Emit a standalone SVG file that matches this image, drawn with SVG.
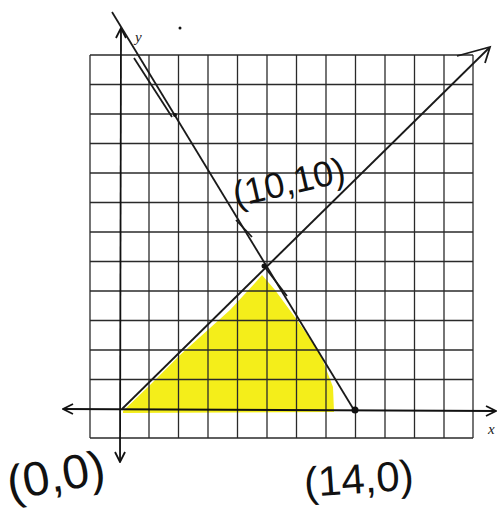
<svg xmlns="http://www.w3.org/2000/svg" width="499" height="509" viewBox="0 0 499 509">
<style>
.grid line{stroke:#2a2a2a;stroke-width:1.3}
.ax{stroke:#111;stroke-width:1.8;fill:none}
.ln{stroke:#1a1a1a;stroke-width:1.8;fill:none}
.hand{font-family:"Liberation Sans",Arial,sans-serif;fill:#111;font-weight:normal}
.lab{font-family:"Liberation Serif","Times New Roman",serif;font-style:italic;fill:#222;font-size:15px}
</style>
<defs>
<marker id="ah" viewBox="0 0 12 12" refX="11" refY="6" markerWidth="12" markerHeight="12" markerUnits="userSpaceOnUse" orient="auto-start-reverse">
<path d="M1,1 L11,6 L1,11" fill="none" stroke="#111" stroke-width="1.8"/>
</marker>
</defs>
<rect width="499" height="509" fill="#fff"/>
<g id="shade">
<polygon points="123,411 150,385 180,355 230,310 255,283 262,275 275,290 297,320 320,353 333,387 334,412 123,413" fill="#f4ee1a"/>
</g>
<g id="grid" class="grid">
<line x1="90" y1="55" x2="90" y2="438"/>
<line x1="149" y1="55" x2="149" y2="438"/>
<line x1="178.5" y1="55" x2="178.5" y2="438"/>
<line x1="208" y1="55" x2="208" y2="438"/>
<line x1="237.5" y1="55" x2="237.5" y2="438"/>
<line x1="267" y1="55" x2="267" y2="438"/>
<line x1="296.5" y1="55" x2="296.5" y2="438"/>
<line x1="326" y1="55" x2="326" y2="438"/>
<line x1="355.5" y1="55" x2="355.5" y2="438"/>
<line x1="385" y1="55" x2="385" y2="438"/>
<line x1="414.5" y1="55" x2="414.5" y2="438"/>
<line x1="444" y1="55" x2="444" y2="438"/>
<line x1="473" y1="55" x2="473" y2="438"/>
<line x1="90" y1="55" x2="473" y2="55"/>
<line x1="90" y1="84.5" x2="473" y2="84.5"/>
<line x1="90" y1="114" x2="473" y2="114"/>
<line x1="90" y1="143.5" x2="473" y2="143.5"/>
<line x1="90" y1="173" x2="473" y2="173"/>
<line x1="90" y1="202.5" x2="473" y2="202.5"/>
<line x1="90" y1="232" x2="473" y2="232"/>
<line x1="90" y1="261.5" x2="473" y2="261.5"/>
<line x1="90" y1="291" x2="473" y2="291"/>
<line x1="90" y1="320.5" x2="473" y2="320.5"/>
<line x1="90" y1="350" x2="473" y2="350"/>
<line x1="90" y1="379.5" x2="473" y2="379.5"/>
<line x1="90" y1="438" x2="473" y2="438"/>
</g>
<g id="connectors">
<line id="x-axis" class="ax" x1="63" y1="409" x2="496" y2="411" marker-start="url(#ah)" marker-end="url(#ah)"/>
<line id="y-axis" class="ax" x1="120" y1="462" x2="121" y2="28" marker-start="url(#ah)" marker-end="url(#ah)"/>
<line id="line-down" class="ln" x1="112" y1="12" x2="354" y2="410"/>
<line class="ln" x1="264" y1="266" x2="287" y2="296" stroke-width="1.4"/>
<line class="ln" x1="134" y1="58" x2="172" y2="117" stroke-width="1.2"/>
<line class="ln" x1="236" y1="220" x2="252" y2="237" stroke-width="1.2"/>
<line id="line-up" class="ln" x1="122" y1="409" x2="489" y2="48"/>
<path class="ln" d="M457,56 L490,47 L485,63"/>
<circle cx="264" cy="266" r="2.5" fill="#111"/>
<circle cx="355" cy="410" r="3.5" fill="#111"/>
<circle cx="175" cy="115" r="2" fill="#111"/>
<circle cx="180" cy="28" r="1.5" fill="#111"/>
</g>
<g id="labels">
<text class="lab" x="135" y="42">y</text>
<text class="lab" x="488" y="434">x</text>
<text class="hand" font-size="36" transform="translate(236,207) rotate(-13)">(10,10)</text>
<text class="hand" font-size="48" transform="translate(10,500) rotate(-10)">(0,0)</text>
<text class="hand" font-size="42" transform="translate(305,497) rotate(-4)">(14,0)</text>
</g>
</svg>
